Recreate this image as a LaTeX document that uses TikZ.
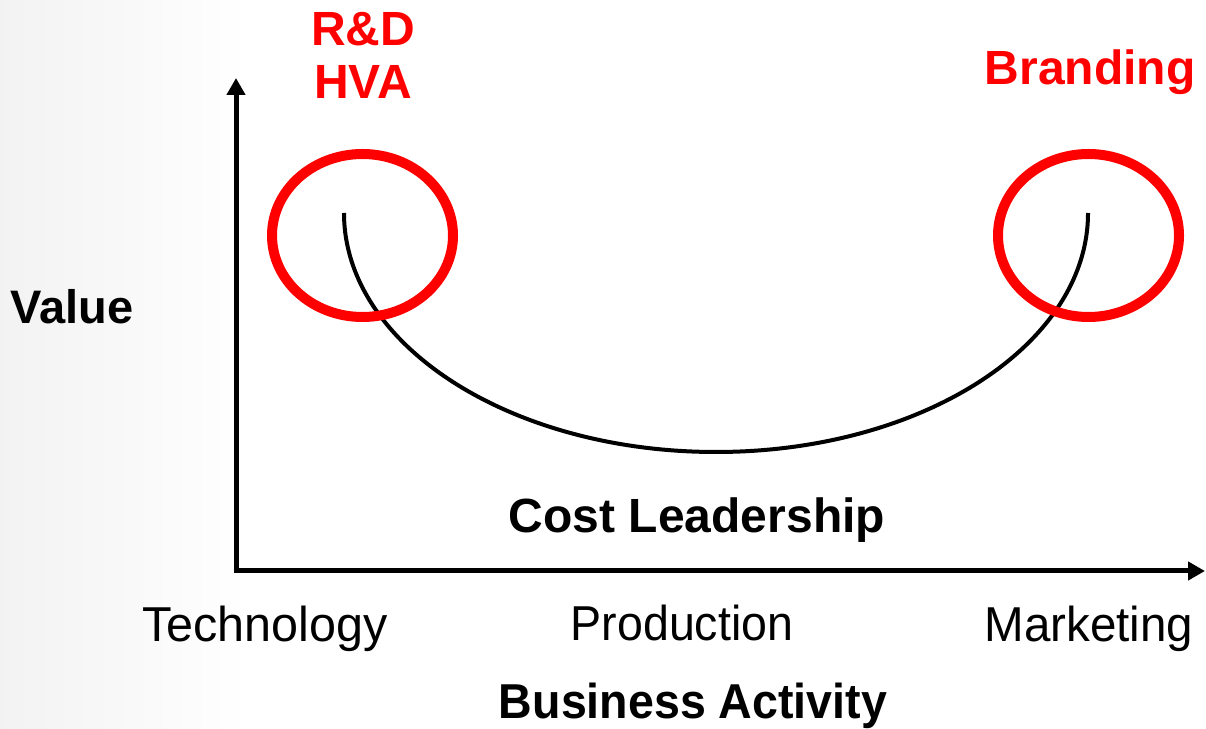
\documentclass[tikz,border=0pt]{standalone}
\usepackage{fontspec}
\setmainfont{Liberation Sans}
\usepackage{graphicx}
\usepackage{tikz}
\usetikzlibrary{arrows.meta}
\pgfdeclarelayer{background}
\pgfdeclarelayer{foreground}
\pgfsetlayers{background,main,foreground}
\definecolor{hotred}{RGB}{255,0,0}
\newcommand{\squeeze}[2]{\scalebox{#1}[1]{#2}}
\tikzset{
  axis/.style={line width=5pt, line join=miter, {Triangle[length=17pt,width=18pt]}-{Triangle[length=17pt,width=18pt]}},
  ring/.style={draw=hotred, line width=10pt},
  redlbl/.style={text=hotred, font=\bfseries\fontsize{48}{54}\selectfont, anchor=base, inner sep=0pt},
  boldlbl/.style={font=\bfseries\fontsize{48}{54}\selectfont, anchor=base, inner sep=0pt},
  plainlbl/.style={font=\fontsize{49}{55}\selectfont, anchor=base, inner sep=0pt}
}

\begin{document}
\begin{tikzpicture}[x=1pt,y=1pt]
\useasboundingbox (0,0) rectangle (1206,728);
\begin{pgfonlayer}{background}
\fill[white] (0,0) rectangle (1206,728);
\shade[left color=black!5, right color=white] (0,0) rectangle (250,728);
\draw[line width=4pt] (344,515) arc[start angle=180, end angle=360, x radius=372, y radius=239];
\end{pgfonlayer}
\coordinate (ytip) at (236,650);
\coordinate (origin) at (236,157);
\coordinate (xtip) at (1205,157);
\draw[axis] (ytip) -- (origin) -- (xtip);
\begin{pgfonlayer}{foreground}
\draw[ring] (362.5,492.5) ellipse[x radius=90.5, y radius=81.5];
\draw[ring] (1088.5,492.5) ellipse[x radius=90.5, y radius=81.5];
\end{pgfonlayer}
\node[redlbl] (rd) at (363,682) {R\&D};
\node[redlbl] (hva) at (363,629) {HVA};
\node[redlbl] (branding) at (1090,643) {Branding};
\node[boldlbl, font=\bfseries\fontsize{47}{53}\selectfont] (value) at (72,404) {Value};
\node[boldlbl] (cost) at (697,195) {Cost Leadership};
\node[plainlbl] (tech) at (265,87) {\squeeze{0.99}{Technology}};
\node[plainlbl] (prod) at (682,88) {\squeeze{0.95}{Production}};
\node[plainlbl] (mkt) at (1089,87) {\squeeze{0.97}{Marketing}};
\node[boldlbl, font=\bfseries\fontsize{49}{55}\selectfont] (business) at (693,10) {\squeeze{0.95}{Business Activity}};
\end{tikzpicture}
\end{document}
